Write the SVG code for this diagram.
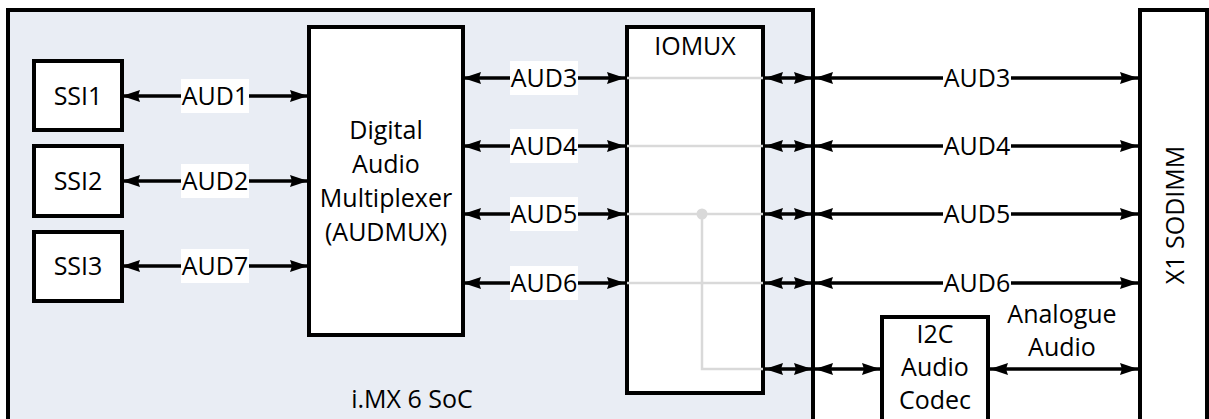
<svg xmlns="http://www.w3.org/2000/svg" width="1209" height="419" viewBox="0 0 1209 419">
<style>
text{font-family:"Open Sans","Liberation Sans",sans-serif;font-size:25px;fill:#000;text-anchor:middle}
.box{fill:#fff;stroke:#000;stroke-width:4}
.soc{fill:#e9edf4;stroke:#000;stroke-width:4}
.c{stroke:#000;stroke-width:3.5;fill:none;marker-start:url(#ah);marker-end:url(#ah)}
.g{stroke:#d9d9d9;stroke-width:2.5;fill:none}
.lb{fill:#fff}
</style>
<defs>
<marker id="ah" viewBox="0 0 18 12" refX="18" refY="6" markerWidth="18" markerHeight="12" markerUnits="userSpaceOnUse" orient="auto-start-reverse">
<path d="M0,0 L18,6 L0,12 L2,6 z" fill="#000"/>
</marker>
</defs>
<g id="soc"><rect class="soc" x="8" y="10" width="805" height="420"/><text x="412" y="408">i.MX 6 SoC</text></g>
<g id="ssi1"><rect class="box" x="34" y="61" width="88" height="69"/><text x="78" y="105">SSI1</text></g>
<g id="ssi2"><rect class="box" x="34" y="146" width="88" height="70"/><text x="78" y="190">SSI2</text></g>
<g id="ssi3"><rect class="box" x="34" y="232" width="88" height="69"/><text x="78" y="275">SSI3</text></g>
<g id="audmux"><rect class="box" x="309" y="27" width="154" height="308"/>
<text x="386" y="139">Digital</text><text x="386" y="173">Audio</text><text x="386" y="207">Multiplexer</text><text x="386" y="241">(AUDMUX)</text></g>
<g id="iomux"><rect class="box" x="627" y="27" width="136" height="366"/><text x="695" y="55">IOMUX</text>
<path class="g" d="M627,78H763M627,146H763M627,214H763M627,283H763M702,214V369H763"/>
<circle cx="702" cy="214" r="5.5" fill="#d9d9d9"/></g>
<g id="sodimm"><rect class="box" x="1140" y="10" width="67" height="420"/><text transform="translate(1184,215) rotate(-90)">X1 SODIMM</text></g>
<g id="codec"><rect class="box" x="882" y="317" width="106" height="113"/><text x="935" y="343">I2C</text><text x="935" y="376">Audio</text><text x="935" y="409">Codec</text></g>
<g id="connectors">
<path class="c" d="M122,96H308"/><path class="c" d="M122,181H308"/><path class="c" d="M122,266H308"/>
<path class="c" d="M463,78H625"/><path class="c" d="M463,146H625"/><path class="c" d="M463,214H625"/><path class="c" d="M463,283H625"/>
<path class="c" d="M765,78H812"/><path class="c" d="M765,146H812"/><path class="c" d="M765,214H812"/><path class="c" d="M765,283H812"/><path class="c" d="M765,369H812"/>
<path class="c" d="M815,78H1138"/><path class="c" d="M815,146H1138"/><path class="c" d="M815,214H1138"/><path class="c" d="M815,283H1138"/>
<path class="c" d="M815,369H880"/><path class="c" d="M990,369H1138"/>
<g id="labels">
<rect class="lb" x="181" y="79" width="68" height="34"/><text x="215" y="105">AUD1</text>
<rect class="lb" x="181" y="164" width="68" height="34"/><text x="215" y="190">AUD2</text>
<rect class="lb" x="181" y="249" width="68" height="34"/><text x="215" y="275">AUD7</text>
<rect class="lb" x="510" y="61" width="68" height="34"/><text x="544" y="87">AUD3</text>
<rect class="lb" x="510" y="129" width="68" height="34"/><text x="544" y="155">AUD4</text>
<rect class="lb" x="510" y="197" width="68" height="34"/><text x="544" y="223">AUD5</text>
<rect class="lb" x="510" y="266" width="68" height="34"/><text x="544" y="292">AUD6</text>
<rect class="lb" x="943" y="61" width="68" height="34"/><text x="977" y="87">AUD3</text>
<rect class="lb" x="943" y="129" width="68" height="34"/><text x="977" y="155">AUD4</text>
<rect class="lb" x="943" y="197" width="68" height="34"/><text x="977" y="223">AUD5</text>
<rect class="lb" x="943" y="266" width="68" height="34"/><text x="977" y="292">AUD6</text>
<text x="1062" y="323">Analogue</text><text x="1062" y="356">Audio</text>
</g>
</g>
</svg>
